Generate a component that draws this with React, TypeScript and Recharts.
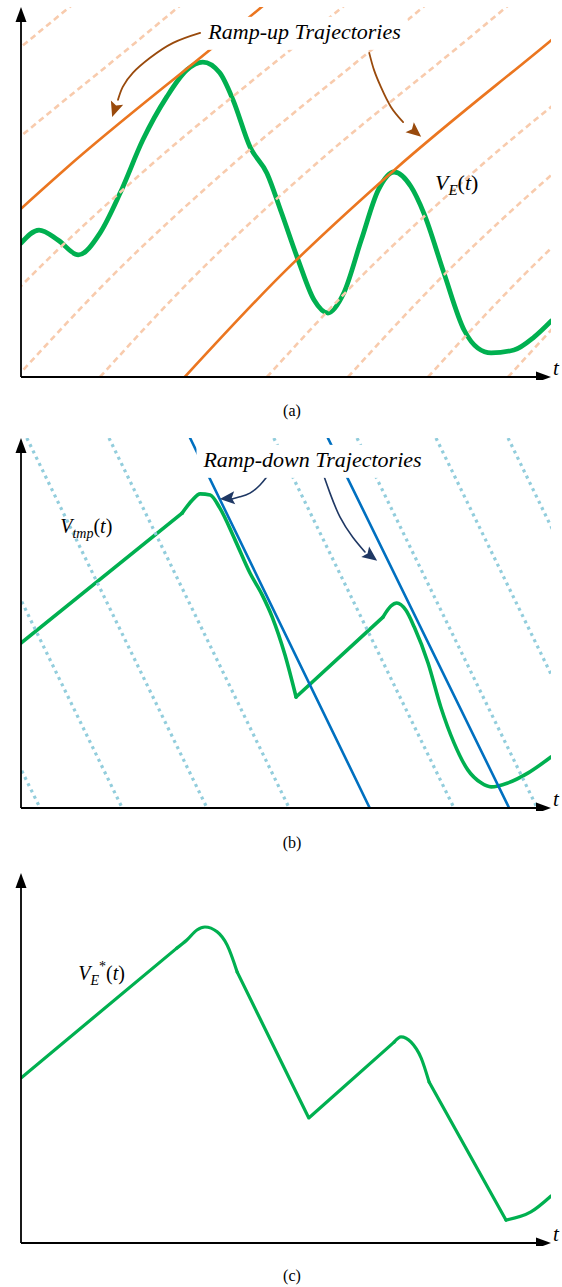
import React from 'react';
import { LineChart, Line, XAxis, YAxis, ReferenceLine, ReferenceDot } from 'recharts';

const SERIF = '"Liberation Serif", "Times New Roman", serif';

const GREEN = '#00B050';
const ORANGE = '#EB7620';
const PEACH = '#F8CBAD';
const BROWN = '#994A0C';
const BLUE = '#0070C0';
const AQUA = '#92CDDC';
const NAVY = '#1F3864';

// (a) V_E(t) (t and V in arbitrary units 0..10)
const veT = [0, 0.34, 0.7, 1.08, 1.49, 1.87, 2.3, 2.75, 3.13, 3.43, 3.75, 4.0, 4.32, 4.64, 4.91, 5.23, 5.53, 5.79, 6.09, 6.42, 6.74, 7.04, 7.36, 7.6, 7.98, 8.36, 8.62, 8.87, 9.3, 9.68, 10.0];
const veV = [3.62, 3.97, 3.7, 3.3, 3.89, 4.97, 6.41, 7.57, 8.3, 8.51, 8.22, 7.49, 6.22, 5.51, 4.46, 3.16, 2.08, 1.73, 2.27, 3.7, 5.05, 5.54, 5.14, 4.43, 2.81, 1.27, 0.78, 0.65, 0.73, 1.08, 1.51];

// ramp-up trajectories: every curve shares these V levels
const rampUpV = [0, 2.76, 5.59, 9.05, 10.19];
const rampUpSolidT = [
  [-3.13, -1.32, 0.81, 3.74, 4.7],
  [3.09, 4.91, 7.04, 9.96, 10.92],
];
const rampUpDashedT = [
  [-6.75, -4.94, -2.81, 0.11, 1.08],
  [-4.7, -2.89, -0.75, 2.17, 3.13],
  [-1.6, 0.21, 2.34, 5.26, 6.23],
  [-0.08, 1.74, 3.87, 6.79, 7.75],
  [1.49, 3.3, 5.43, 8.36, 9.32],
  [4.64, 6.45, 8.58, 11.51, 12.47],
  [6.17, 7.98, 10.11, 13.04, 14.0],
  [7.68, 9.49, 11.62, 14.55, 15.51],
  [9.19, 11.0, 13.13, 16.06, 17.02],
];

// (b) V_tmp(t), split where it has corners
const vtmpRiseAT = [0, 3.04];
const vtmpRiseAV = [4.46, 7.97];
const vtmpPeakAT = [3.04, 3.23, 3.38, 3.57, 3.75, 4.04, 4.32, 4.55, 4.74, 4.98, 5.19];
const vtmpPeakAV = [7.97, 8.32, 8.49, 8.46, 8.11, 7.24, 6.35, 5.76, 5.16, 4.14, 3.0];
const vtmpRiseBT = [5.19, 6.83];
const vtmpRiseBV = [3.0, 5.16];
const vtmpPeakBT = [6.83, 6.98, 7.09, 7.26, 7.42, 7.68, 7.92, 8.17, 8.43, 8.68, 8.87, 9.19, 9.57, 10.0];
const vtmpPeakBV = [5.16, 5.46, 5.54, 5.35, 4.89, 3.92, 2.73, 1.76, 1.03, 0.68, 0.57, 0.68, 0.95, 1.38];

// ramp-down trajectories: straight, from V=10 down to V=0
const rampDownV = [10, 0];
const rampDownSolidT = [
  [3.19, 6.58],
  [5.79, 9.21],
];
const rampDownDottedT = [
  [-3.08, 0.36],
  [-1.49, 1.91],
  [0.11, 3.51],
  [1.66, 5.06],
  [4.77, 8.17],
  [6.34, 9.74],
  [7.83, 11.23],
  [9.19, 12.58],
];

// (c) V_E*(t)
const vsRiseAT = [0, 2.94];
const vsRiseAV = [4.46, 7.97];
const vsPeakAT = [2.94, 3.13, 3.32, 3.47, 3.7, 3.89, 4.08];
const vsPeakAV = [7.97, 8.19, 8.46, 8.54, 8.41, 8.05, 7.32];
const vsZigT = [4.08, 5.43, 7.04];
const vsZigV = [7.32, 3.38, 5.43];
const vsPeakBT = [7.04, 7.17, 7.36, 7.55, 7.7];
const vsPeakBV = [5.43, 5.57, 5.43, 5.0, 4.35];
const vsFallT = [7.7, 9.15];
const vsFallV = [4.35, 0.62];
const vsTailT = [9.15, 9.62, 10.0];
const vsTailV = [0.62, 0.84, 1.27];

// annotation arrows
const arrowUpAT = [3.38, 2.87, 2.43, 2.11, 1.92, 1.83];
const arrowUpAV = [9.3, 9.03, 8.62, 8.22, 7.84, 7.49];
const arrowUpBT = [6.57, 6.66, 6.79, 6.98, 7.21];
const arrowUpBV = [8.76, 8.3, 7.84, 7.3, 6.89];
const arrowDownAT = [4.64, 4.51, 4.32, 4.13, 3.98];
const arrowDownAV = [8.95, 8.73, 8.51, 8.41, 8.35];
const arrowDownBT = [5.72, 5.83, 6.02, 6.26, 6.49];
const arrowDownBV = [8.95, 8.51, 7.86, 7.32, 6.92];

type Pt = { t: number; v: number };
const pts = (ts: number[], vs: number[]): Pt[] => ts.map((t, i) => ({ t, v: vs[i] }));

const trace = (key: string, data: Pt[], stroke: string, width: number, type: any = 'monotone', dash?: string) => (
  <Line
    key={key}
    data={data}
    dataKey="v"
    type={type}
    stroke={stroke}
    strokeWidth={width}
    strokeDasharray={dash}
    strokeLinecap={dash ? 'butt' : 'round'}
    strokeLinejoin="round"
    dot={false}
    activeDot={false}
    isAnimationActive={false}
  />
);

const mark = (key: string, t: number, v: number, draw: (cx: number, cy: number) => React.ReactElement) => (
  <ReferenceDot key={key} x={t} y={v} r={1} ifOverflow="visible" shape={(p: any) => draw(p.cx, p.cy)} />
);

const head = (angle: number, color: string, len: number, half: number, notch: number) => (cx: number, cy: number) => (
  <polygon
    points={`0,0 ${-len},${-half} ${-len + notch},0 ${-len},${half}`}
    transform={`translate(${cx},${cy}) rotate(${angle})`}
    fill={color}
  />
);

const axes = (k: string) => [
  <ReferenceLine key={k + 'x'} segment={[{ x: 0, y: 0 }, { x: 9.8, y: 0 }]} stroke="#000" strokeWidth={1.8} ifOverflow="visible" />,
  <ReferenceLine key={k + 'y'} segment={[{ x: 0, y: 0 }, { x: 0, y: 9.8 }]} stroke="#000" strokeWidth={1.8} ifOverflow="visible" />,
  mark(k + 'xh', 10, 0, head(0, '#000', 15, 5.5, 0)),
  mark(k + 'yh', 0, 10, head(-90, '#000', 15, 5.5, 0)),
  mark(k + 'tl', 10.0, 0.05, (cx, cy) => (
    <text x={cx + 2} y={cy} fontFamily={SERIF} fontStyle="italic" fontSize={21} fill="#000">t</text>
  )),
];

const boxedTitle = (text: string, w: number) => (cx: number, cy: number) => (
  <g transform={`translate(${cx},${cy})`}>
    <rect x={-w / 2} y={-22} width={w} height={33} fill="#fff" />
    <text x={0} y={0} textAnchor="middle" fontFamily={SERIF} fontStyle="italic" fontSize={22} fill="#000">{text}</text>
  </g>
);

const Panel = ({ top, children }: { top: number; children: React.ReactNode }) => (
  <div style={{ position: 'absolute', top, left: 0 }}>
    <LineChart width={562} height={380} margin={{ top: 7, right: 11, bottom: 3, left: 21 }}>
      <XAxis type="number" dataKey="t" domain={[0, 10]} allowDataOverflow hide />
      <YAxis type="number" domain={[0, 10]} allowDataOverflow hide />
      {children}
    </LineChart>
  </div>
);

const Caption = ({ text, baseline }: { text: string; baseline: number }) => (
  <div
    style={{
      position: 'absolute',
      left: 0,
      width: 584,
      top: baseline - 13.4,
      textAlign: 'center',
      fontFamily: SERIF,
      fontSize: 16,
      lineHeight: '16px',
      color: '#000',
    }}
  >
    {text}
  </div>
);

export default function App() {
  return (
    <div style={{ position: 'absolute', left: 0, top: 0, width: 562, height: 1287, background: '#fff', overflow: 'hidden' }}>
      <Panel top={0}>
        {[
          trace('ve', pts(veT, veV), GREEN, 4.8),
          ...rampUpSolidT.map((ts, i) => trace('us' + i, pts(ts, rampUpV), ORANGE, 2.6)),
          ...rampUpDashedT.map((ts, i) => trace('ud' + i, pts(ts, rampUpV), PEACH, 2.6, 'monotone', '6 4')),
          trace('aa', pts(arrowUpAT, arrowUpAV), BROWN, 1.8, 'natural'),
          trace('ab', pts(arrowUpBT, arrowUpBV), BROWN, 1.8, 'natural'),
          mark('aah', 1.72, 7.03, head(109, BROWN, 15, 6.5, 3)),
          mark('abh', 7.55, 6.49, head(40, BROWN, 15, 6.5, 3)),
          mark('ttl', 5.35, 9.14, boxedTitle('Ramp-up Trajectories', 206)),
          mark('vel', 7.81, 5.05, (cx, cy) => (
            <text x={cx} y={cy} fontFamily={SERIF} fontSize={22} fill="#000">
              <tspan fontStyle="italic">V</tspan>
              <tspan fontStyle="italic" fontSize={15} dy={5}>E</tspan>
              <tspan dy={-5}>(</tspan>
              <tspan fontStyle="italic">t</tspan>
              <tspan>)</tspan>
            </text>
          )),
          ...axes('a'),
        ]}
      </Panel>
      <Caption text="(a)" baseline={416} />

      <Panel top={431}>
        {[
          trace('r1', pts(vtmpRiseAT, vtmpRiseAV), GREEN, 3.6, 'linear'),
          trace('p1', pts(vtmpPeakAT, vtmpPeakAV), GREEN, 3.6),
          trace('r2', pts(vtmpRiseBT, vtmpRiseBV), GREEN, 3.6, 'linear'),
          trace('p2', pts(vtmpPeakBT, vtmpPeakBV), GREEN, 3.6),
          ...rampDownSolidT.map((ts, i) => trace('ds' + i, pts(ts, rampDownV), BLUE, 2.6, 'linear')),
          ...rampDownDottedT.map((ts, i) => trace('dd' + i, pts(ts, rampDownV), AQUA, 3.2, 'linear', '3 4')),
          trace('da', pts(arrowDownAT, arrowDownAV), NAVY, 1.6, 'natural'),
          trace('db', pts(arrowDownBT, arrowDownBV), NAVY, 1.6, 'natural'),
          mark('dah', 3.75, 8.35, head(175, NAVY, 15, 6.5, 3)),
          mark('dbh', 6.72, 6.68, head(37, NAVY, 15, 6.5, 3)),
          mark('dtl', 5.5, 9.22, boxedTitle('Ramp-down Trajectories', 232)),
          mark('vtl', 0.74, 7.43, (cx, cy) => (
            <text x={cx} y={cy} fontFamily={SERIF} fontSize={20} fill="#000">
              <tspan fontStyle="italic">V</tspan>
              <tspan fontStyle="italic" fontSize={14} dy={5}>tmp</tspan>
              <tspan dy={-5}>(</tspan>
              <tspan fontStyle="italic">t</tspan>
              <tspan>)</tspan>
            </text>
          )),
          ...axes('b'),
        ]}
      </Panel>
      <Caption text="(b)" baseline={848} />

      <Panel top={866}>
        {[
          trace('c1', pts(vsRiseAT, vsRiseAV), GREEN, 3.2, 'linear'),
          trace('c2', pts(vsPeakAT, vsPeakAV), GREEN, 3.2),
          trace('c3', pts(vsZigT, vsZigV), GREEN, 3.2, 'linear'),
          trace('c4', pts(vsPeakBT, vsPeakBV), GREEN, 3.2),
          trace('c5', pts(vsFallT, vsFallV), GREEN, 3.2, 'linear'),
          trace('c6', pts(vsTailT, vsTailV), GREEN, 3.2),
          mark('vsl', 1.08, 7.11, (cx, cy) => (
            <text x={cx} y={cy} fontFamily={SERIF} fontSize={20} fill="#000">
              <tspan fontStyle="italic">V</tspan>
              <tspan fontStyle="italic" fontSize={14} dy={5}>E</tspan>
              <tspan fontSize={14} dy={-14}>*</tspan>
              <tspan dy={9}>(</tspan>
              <tspan fontStyle="italic">t</tspan>
              <tspan>)</tspan>
            </text>
          )),
          ...axes('c'),
        ]}
      </Panel>
      <Caption text="(c)" baseline={1281} />
    </div>
  );
}
